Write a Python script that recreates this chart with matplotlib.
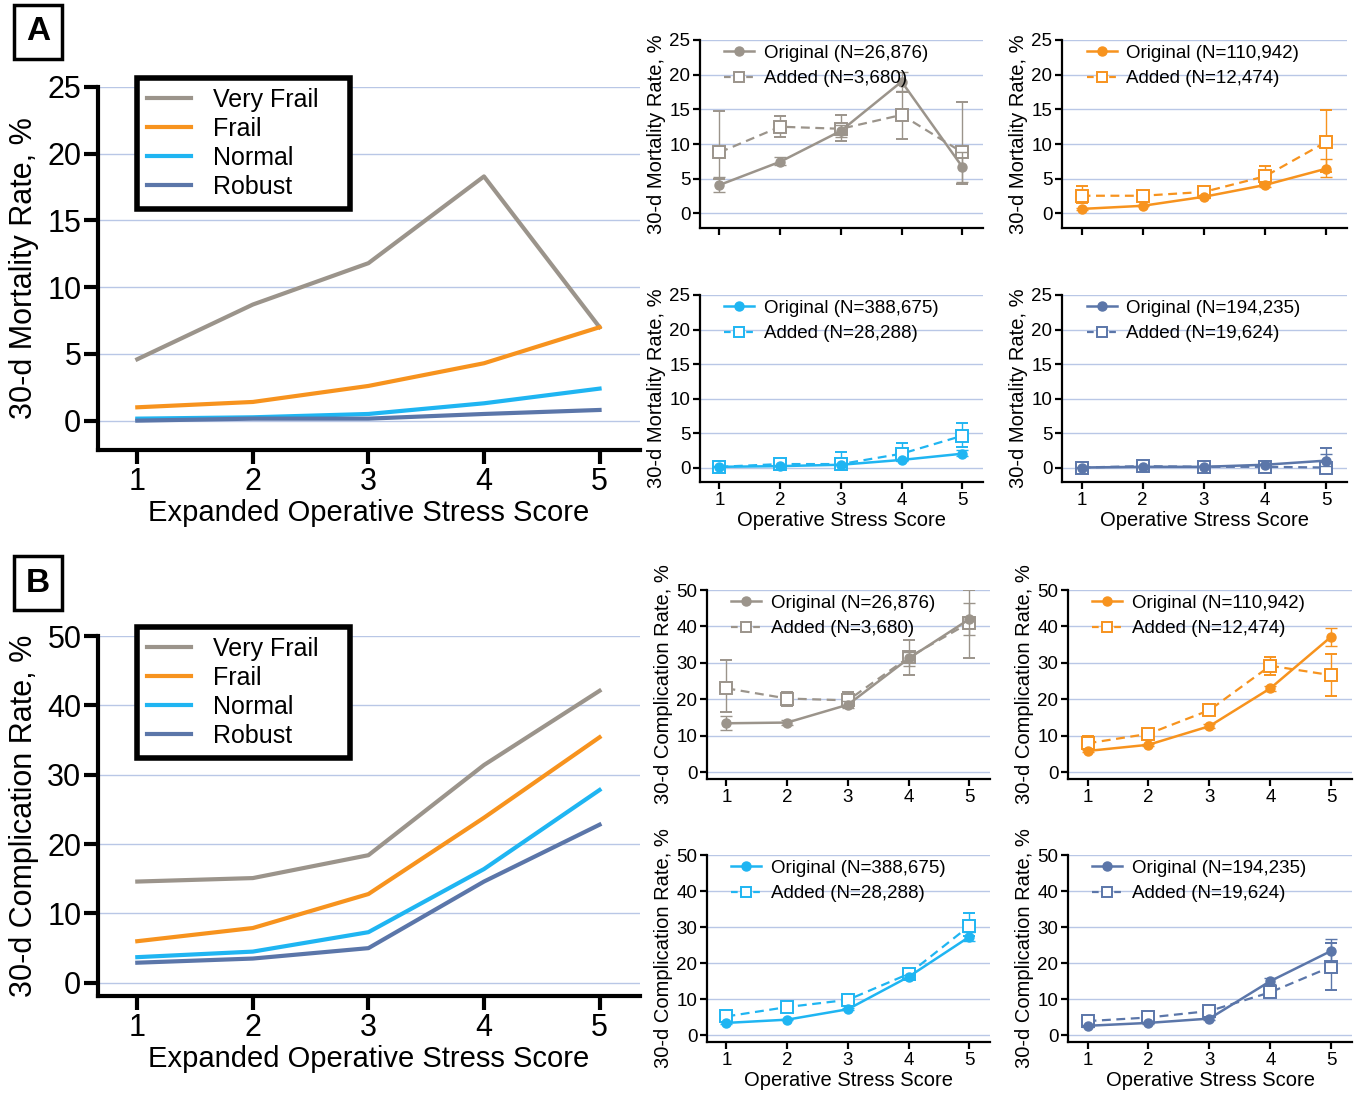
import matplotlib
matplotlib.use("Agg")
import matplotlib.pyplot as plt
from matplotlib.lines import Line2D

plt.rcParams['font.family'] = ['Liberation Sans', 'DejaVu Sans']

W, H = 1359, 1098

scores = [1, 2, 3, 4, 5]
groups = ["Very Frail", "Frail", "Normal", "Robust"]
colors = ["#9b948b", "#f7931e", "#1fb5f2", "#5b76a9"]

# Panel A main: expanded OSS 30-d mortality
mort_main = {
    "Very Frail": [4.6, 8.7, 11.8, 18.3, 7.0],
    "Frail": [1.0, 1.4, 2.6, 4.3, 7.0],
    "Normal": [0.15, 0.25, 0.5, 1.3, 2.4],
    "Robust": [0.0, 0.15, 0.15, 0.5, 0.8],
}
# Panel B main: expanded OSS 30-d complication
comp_main = {
    "Very Frail": [14.6, 15.1, 18.4, 31.4, 42.1],
    "Frail": [6.0, 7.9, 12.8, 23.8, 35.4],
    "Normal": [3.7, 4.5, 7.3, 16.4, 27.8],
    "Robust": [2.9, 3.5, 5.0, 14.6, 22.8],
}

n_orig = ["26,876", "110,942", "388,675", "194,235"]
n_added = ["3,680", "12,474", "28,288", "19,624"]

# small panels: mortality (original / added), with error bar lo/hi
mort_orig = {
    "Very Frail": [4.1, 7.45, 11.9, 19.0, 6.7],
    "Frail": [0.65, 1.1, 2.4, 4.1, 6.45],
    "Normal": [0.1, 0.2, 0.4, 1.1, 2.0],
    "Robust": [0.0, 0.1, 0.1, 0.4, 1.0],
}
mort_orig_lo = {
    "Very Frail": [3.1, 7.0, 11.0, 17.6, 4.6],
    "Frail": [0.5, 1.0, 2.2, 3.8, 5.3],
    "Normal": [0.05, 0.15, 0.3, 0.9, 1.6],
    "Robust": [0.0, 0.05, 0.05, 0.3, 0.2],
}
mort_orig_hi = {
    "Very Frail": [5.3, 8.2, 12.8, 20.4, 8.8],
    "Frail": [0.8, 1.2, 2.6, 4.4, 7.9],
    "Normal": [0.15, 0.25, 0.5, 1.3, 2.5],
    "Robust": [0.05, 0.15, 0.15, 0.5, 2.0],
}
mort_add = {
    "Very Frail": [8.8, 12.5, 12.2, 14.2, 8.8],
    "Frail": [2.55, 2.55, 3.1, 5.35, 10.3],
    "Normal": [0.1, 0.5, 0.5, 2.0, 4.6],
    "Robust": [0.0, 0.2, 0.1, 0.1, 0.0],
}
mort_add_lo = {
    "Very Frail": [5.0, 11.0, 10.5, 10.8, 4.2],
    "Frail": [1.5, 2.2, 2.7, 4.3, 6.0],
    "Normal": [0.0, 0.2, 0.0, 0.9, 3.0],
    "Robust": [0.0, 0.0, 0.0, 0.0, 0.0],
}
mort_add_hi = {
    "Very Frail": [14.7, 14.1, 14.2, 17.5, 16.1],
    "Frail": [4.0, 2.9, 3.5, 6.8, 14.9],
    "Normal": [0.3, 0.8, 2.3, 3.6, 6.5],
    "Robust": [0.1, 0.4, 0.3, 0.4, 2.8],
}

comp_orig = {
    "Very Frail": [13.4, 13.6, 18.5, 31.2, 42.0],
    "Frail": [5.8, 7.5, 12.6, 23.0, 37.2],
    "Normal": [3.4, 4.3, 7.2, 16.2, 27.3],
    "Robust": [2.6, 3.4, 4.6, 15.0, 23.4],
}
comp_orig_lo = {
    "Very Frail": [11.6, 13.0, 17.5, 29.0, 37.7],
    "Frail": [5.4, 7.2, 12.1, 22.3, 34.5],
    "Normal": [3.2, 4.1, 6.9, 15.7, 26.0],
    "Robust": [2.3, 3.1, 4.2, 14.2, 20.2],
}
comp_orig_hi = {
    "Very Frail": [15.5, 14.2, 19.5, 33.0, 46.4],
    "Frail": [6.2, 7.8, 13.1, 23.7, 39.5],
    "Normal": [3.6, 4.5, 7.5, 16.7, 28.7],
    "Robust": [2.9, 3.7, 5.0, 15.8, 26.8],
}
comp_add = {
    "Very Frail": [23.0, 20.2, 19.7, 31.5, 41.0],
    "Frail": [7.9, 10.5, 17.0, 29.2, 26.6],
    "Normal": [5.2, 7.8, 9.8, 17.0, 30.3],
    "Robust": [3.9, 4.9, 6.7, 11.9, 19.0],
}
comp_add_lo = {
    "Very Frail": [16.5, 18.2, 17.8, 26.7, 31.4],
    "Frail": [6.3, 9.8, 16.0, 26.7, 21.0],
    "Normal": [4.4, 7.0, 8.9, 15.8, 27.5],
    "Robust": [3.2, 4.2, 5.8, 10.7, 12.4],
}
comp_add_hi = {
    "Very Frail": [30.8, 22.0, 22.0, 36.3, 50.0],
    "Frail": [10.0, 11.3, 18.0, 31.7, 32.5],
    "Normal": [6.0, 8.6, 10.7, 18.2, 34.0],
    "Robust": [4.6, 5.6, 7.6, 13.2, 25.6],
}

GRID = "#b9c7e6"


def rect(l, t, r, b):
    return [l / W, 1 - b / H, (r - l) / W, (b - t) / H]


fig = plt.figure(figsize=(W / 100, H / 100), dpi=100)


def style_axes(ax, lw, ticklen, fs, yticks, ylim, xlim):
    for s in ["top", "right"]:
        ax.spines[s].set_visible(False)
    for s in ["left", "bottom"]:
        ax.spines[s].set_linewidth(lw)
    ax.set_ylim(*ylim)
    ax.set_xlim(*xlim)
    ax.set_yticks(yticks)
    ax.set_xticks(scores)
    ax.tick_params(axis="both", direction="out", length=ticklen, width=lw,
                   labelsize=fs, pad=2)
    for y in yticks:
        ax.axhline(y, color=GRID, lw=1.0, zorder=0)
    ax.spines["left"].set_bounds(ylim[0], yticks[-1])


def main_panel(rectpx, data, yticks, ylim, ylabel):
    l, t, r, b = rectpx
    ax = fig.add_axes(rect(*rectpx))
    style_axes(ax, 3, 10, 22, yticks, ylim, (0.66, 5.35))
    for g, c in zip(groups, colors):
        ax.plot(scores, data[g], color=c, lw=3, solid_joinstyle="round", zorder=3)
    ax.set_ylabel(ylabel, fontsize=22, labelpad=6)
    ax.set_xlabel("Expanded Operative Stress Score", fontsize=21, labelpad=2)
    handles = [Line2D([], [], color=c, lw=3) for c in colors]
    # legend box: x 137..350 px, top 10 px above axes top
    x0 = (137 - l) / (r - l)
    wbox = (350 - 137) / (r - l)
    ytop = 1 + 9 / (b - t)
    leg = ax.legend(handles, groups, loc="upper left",
                    bbox_to_anchor=(x0, ytop - 0.3, wbox, 0.3), mode="expand",
                    fontsize=18, frameon=True, fancybox=False, edgecolor="black",
                    handlelength=1.75, handletextpad=0.9, labelspacing=0.2,
                    borderpad=0.4, borderaxespad=0)
    leg.get_frame().set_linewidth(4)
    leg.get_frame().set_facecolor("white")
    leg.get_frame().set_alpha(1)
    return ax


def small_panel(rectpx, g, c, idx, o, olo, ohi, a, alo, ahi, yticks, ylim, ylabel, xlabel):
    ax = fig.add_axes(rect(*rectpx))
    style_axes(ax, 1.6, 5, 13.5, yticks, ylim, (0.68, 5.34))
    ov, av = o[g], a[g]
    oerr = [[v - l for v, l in zip(ov, olo[g])], [h - v for v, h in zip(ov, ohi[g])]]
    aerr = [[v - l for v, l in zip(av, alo[g])], [h - v for v, h in zip(av, ahi[g])]]
    ax.errorbar(scores, av, yerr=aerr, color=c, lw=1.6, ls=(0, (4, 2.5)), marker="s",
                ms=8, mfc="white", mec=c, mew=1.4, capsize=4, elinewidth=1.0,
                ecolor=c, zorder=3)
    ax.errorbar(scores, ov, yerr=oerr, color=c, lw=1.8, marker="o", ms=6.5,
                mfc=c, mec=c, capsize=4, elinewidth=1.0, ecolor=c, zorder=4)
    handles = [
        Line2D([], [], color=c, lw=1.8, marker="o", ms=6.5, mfc=c, mec=c),
        Line2D([], [], color=c, lw=1.6, ls=(0, (3, 2)), marker="s", ms=7,
               mfc="white", mec=c, mew=1.4),
    ]
    labels = [f"Original (N={n_orig[idx]})", f"Added (N={n_added[idx]})"]
    ax.legend(handles, labels, loc="upper left", bbox_to_anchor=(0.04, 1.045),
              frameon=False, fontsize=13.5, handlelength=1.6, handletextpad=0.5,
              labelspacing=0.45, borderpad=0.2)
    ax.set_ylabel(ylabel, fontsize=14.5, labelpad=2)
    if xlabel:
        ax.set_xlabel("Operative Stress Score", fontsize=14.5, labelpad=2)
    else:
        ax.set_xticklabels([] if "Mortality" in ylabel else scores)
    return ax


# Panel A
main_panel((98, 87, 640, 450), mort_main, [0, 5, 10, 15, 20, 25], (-2.2, 25),
           "30-d Mortality Rate, %")
main_panel((98, 636, 640, 996), comp_main, [0, 10, 20, 30, 40, 50], (-1.9, 50),
           "30-d Complication Rate, %")

mort_rects = [(700, 40, 983, 228), (1062, 40, 1347, 228),
              (700, 295, 983, 482), (1062, 295, 1347, 482)]
comp_rects = [(707, 590, 990, 779), (1068, 590, 1352, 779),
              (707, 855, 990, 1042), (1068, 855, 1352, 1042)]

for i, g in enumerate(groups):
    small_panel(mort_rects[i], g, colors[i], i, mort_orig, mort_orig_lo, mort_orig_hi,
                mort_add, mort_add_lo, mort_add_hi, [0, 5, 10, 15, 20, 25],
                (-2.1, 25), "30-d Mortality Rate, %", i >= 2)
    small_panel(comp_rects[i], g, colors[i], i, comp_orig, comp_orig_lo, comp_orig_hi,
                comp_add, comp_add_lo, comp_add_hi, [0, 10, 20, 30, 40, 50],
                (-1.9, 50), "30-d Complication Rate, %", i >= 2)

for lab, y in [("A", 32), ("B", 583)]:
    fig.text(38 / W, 1 - y / H, lab, fontsize=24, fontweight="bold", ha="center",
             va="center",
             bbox=dict(boxstyle="square,pad=0.35", fc="white", ec="black", lw=2.5))

fig.savefig("out.png", dpi=100)
